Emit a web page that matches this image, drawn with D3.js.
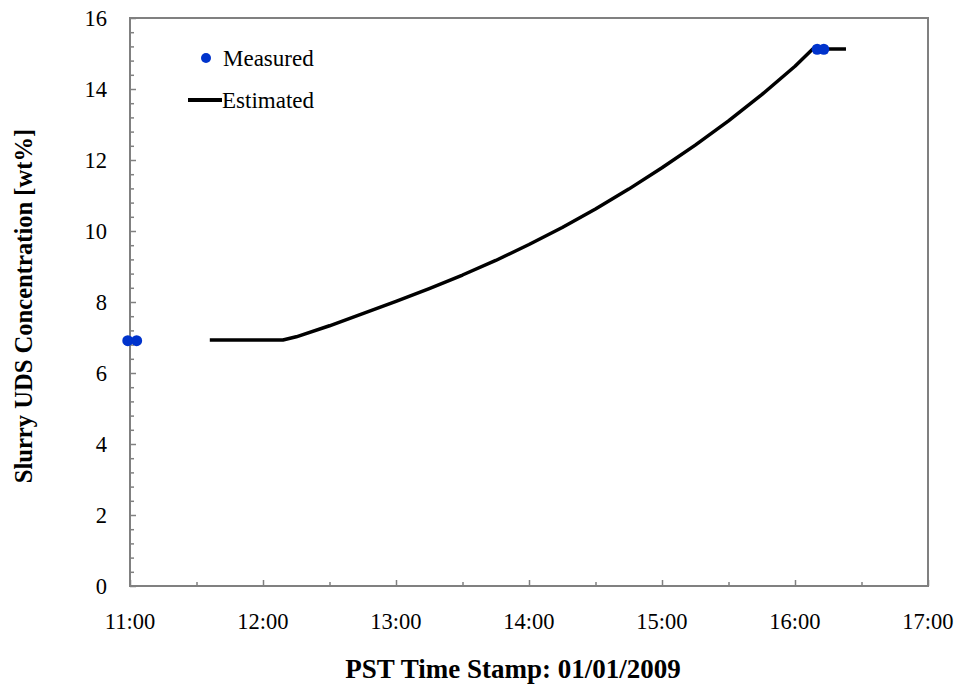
<!DOCTYPE html>
<html>
<head>
<meta charset="utf-8">
<script src="https://cdn.jsdelivr.net/npm/d3@7"></script>
<style>
  html, body { margin: 0; padding: 0; background: #fff; }
  svg { display: block; }
</style>
</head>
<body>
<svg id="chart" width="961" height="690"></svg>
<script>
// Estimated slurry UDS concentration (wt%) over the day
const estTimes  = ["11:36","12:09","12:15","12:30","12:45","13:00","13:15","13:30","13:45","14:00",
                   "14:15","14:30","14:45","15:00","15:15","15:30","15:45","16:00","16:08","16:23"];
const estValues = [6.93, 6.93, 7.02, 7.33, 7.67, 8.02, 8.38, 8.76, 9.17, 9.62,
                   10.10, 10.62, 11.18, 11.78, 12.42, 13.10, 13.84, 14.64, 15.13, 15.13];

// Measured samples
const measTimes  = ["10:59", "11:03", "16:10", "16:13"];
const measValues = [6.91, 6.91, 15.12, 15.12];

// Axis ticks
const xTickLabels = ["11:00","12:00","13:00","14:00","15:00","16:00","17:00"];
const xMinorTicks = ["11:30","12:30","13:30","14:30","15:30","16:30"];
const yTicks = [0, 2, 4, 6, 8, 10, 12, 14, 16];

const FONT = "'Liberation Serif', Tinos, 'Times New Roman', 'DejaVu Serif', serif";

const parse = d3.timeParse("%Y-%m-%d %H:%M");
const t = s => parse("2009-01-01 " + s);

const svg = d3.select("#chart").attr("font-family", FONT);
const margin = { left: 130, right: 33, top: 18, bottom: 104 };
const W = 961, H = 690;

const x = d3.scaleTime()
  .domain([t("11:00"), t("17:00")])
  .range([margin.left, W - margin.right]);
const y = d3.scaleLinear()
  .domain([0, 16])
  .range([H - margin.bottom, margin.top]);

const axisColor = "#808080";
const x0 = x.range()[0], x1 = x.range()[1];
const y0 = y.range()[0], y1 = y.range()[1];

// Plot frame
svg.append("rect")
  .attr("x", x0).attr("y", y1)
  .attr("width", x1 - x0).attr("height", y0 - y1)
  .attr("fill", "none").attr("stroke", axisColor).attr("stroke-width", 2);

const styleTicks = g => {
  g.select(".domain").remove();
  g.selectAll("line").attr("stroke", axisColor).attr("stroke-width", 1.5);
};

// Y axis: major ticks with labels, minor ticks every 0.4
svg.append("g").attr("transform", `translate(${x0},0)`)
  .call(d3.axisRight(y).tickValues(yTicks).tickSize(6).tickFormat(""))
  .call(styleTicks);
const yMinor = d3.range(0, 16.001, 0.4).filter(v => Math.abs(v / 2 - Math.round(v / 2)) > 1e-6);
svg.append("g").attr("transform", `translate(${x0},0)`)
  .call(d3.axisRight(y).tickValues(yMinor).tickSize(4).tickFormat(""))
  .call(styleTicks);
svg.append("g").selectAll("text").data(yTicks).join("text")
  .attr("x", x0 - 23).attr("y", d => y(d))
  .attr("dy", "0.34em")
  .attr("text-anchor", "end")
  .attr("font-family", FONT)
  .attr("font-size", 22.5)
  .text(d => d);

// X axis: hourly ticks with labels, half-hour minor ticks
svg.append("g").attr("transform", `translate(0,${y0})`)
  .call(d3.axisTop(x).tickValues(xTickLabels.map(t)).tickSize(6).tickFormat(""))
  .call(styleTicks);
svg.append("g").attr("transform", `translate(0,${y0})`)
  .call(d3.axisTop(x).tickValues(xMinorTicks.map(t)).tickSize(4).tickFormat(""))
  .call(styleTicks);
svg.append("g").selectAll("text").data(xTickLabels).join("text")
  .attr("x", d => x(t(d))).attr("y", 629)
  .attr("text-anchor", "middle")
  .attr("font-family", FONT)
  .attr("font-size", 22.5)
  .text(d => d);

// Axis titles
svg.append("text")
  .attr("x", 513).attr("y", 678)
  .attr("text-anchor", "middle")
  .attr("font-family", FONT)
  .attr("font-size", 27).attr("font-weight", "bold")
  .text("PST Time Stamp: 01/01/2009");
svg.append("text")
  .attr("transform", `translate(32,${306}) rotate(-90)`)
  .attr("text-anchor", "middle")
  .attr("font-family", FONT)
  .attr("font-size", 24.6).attr("font-weight", "bold")
  .text("Slurry UDS Concentration [wt%]");

// Estimated line
const est = estTimes.map((s, i) => ({ t: t(s), v: estValues[i] }));
svg.append("path")
  .datum(est)
  .attr("fill", "none")
  .attr("stroke", "#000")
  .attr("stroke-width", 3.5)
  .attr("stroke-linejoin", "round")
  .attr("d", d3.line().x(d => x(d.t)).y(d => y(d.v)));

// Measured points
const meas = measTimes.map((s, i) => ({ t: t(s), v: measValues[i] }));
svg.append("g").selectAll("circle").data(meas).join("circle")
  .attr("cx", d => x(d.t)).attr("cy", d => y(d.v))
  .attr("r", 5.5)
  .attr("fill", "#0033cc");

// Legend
const lg = svg.append("g");
lg.append("circle").attr("cx", 206).attr("cy", 58).attr("r", 5).attr("fill", "#0033cc");
lg.append("text").attr("x", 223).attr("y", 66).attr("font-family", FONT).attr("font-size", 23).text("Measured");
lg.append("line").attr("x1", 188).attr("x2", 222).attr("y1", 100).attr("y2", 100)
  .attr("stroke", "#000").attr("stroke-width", 4);
lg.append("text").attr("x", 222).attr("y", 108).attr("font-family", FONT).attr("font-size", 23).text("Estimated");
</script>
</body>
</html>
